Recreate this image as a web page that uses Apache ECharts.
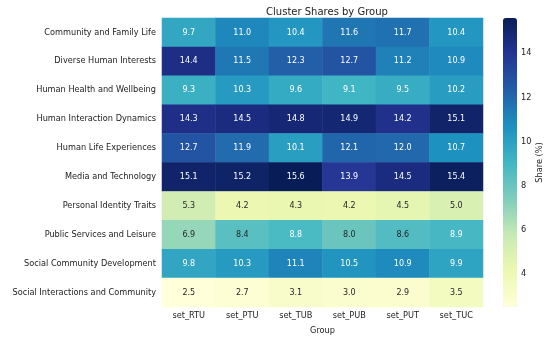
<!DOCTYPE html>
<html><head><meta charset="utf-8">
<script src="https://cdn.jsdelivr.net/npm/echarts@6/dist/echarts.min.js"></script>
<style>html,body{margin:0;padding:0;background:#fff}#c{width:550px;height:337px}</style>
</head><body><div id="c"></div>
<script>
const groups = ['set_RTU','set_PTU','set_TUB','set_PUB','set_PUT','set_TUC'];
const clusters = ['Community and Family Life','Diverse Human Interests','Human Health and Wellbeing','Human Interaction Dynamics','Human Life Experiences','Media and Technology','Personal Identity Traits','Public Services and Leisure','Social Community Development','Social Interactions and Community'];
const shares = [
  [9.7,11.0,10.4,11.6,11.7,10.4],
  [14.4,11.5,12.3,12.7,11.2,10.9],
  [9.3,10.3,9.6,9.1,9.5,10.2],
  [14.3,14.5,14.8,14.9,14.2,15.1],
  [12.7,11.9,10.1,12.1,12.0,10.7],
  [15.1,15.2,15.6,13.9,14.5,15.4],
  [5.3,4.2,4.3,4.2,4.5,5.0],
  [6.9,8.4,8.8,8.0,8.6,8.9],
  [9.8,10.3,11.1,10.5,10.9,9.9],
  [2.5,2.7,3.1,3.0,2.9,3.5]
];
const colorbarTicks = [4,6,8,10,12,14];
const vmin = 2.5, vmax = 15.6;
const ylgnbu = ['#ffffd9','#edf8b1','#c7e9b4','#7fcdbb','#41b6c4','#1d91c0','#225ea8','#253494','#081d58'];

const data = [];
clusters.forEach((c, i) => groups.forEach((g, j) => {
  const v = shares[i][j];
  data.push({value: [j, i, v], label: {color: v >= 8.7 ? '#ffffff' : '#262626'}});
}));

const font = 'DejaVu Sans';
const fs = 8.2;
const chart = echarts.init(document.getElementById('c'));
chart.setOption({
  animation: false,
  textStyle: {fontFamily: font},
  title: {text: 'Cluster Shares by Group', left: 322, top: 2, textAlign: 'center',
    textStyle: {fontFamily: font, fontSize: 10, fontWeight: 'normal', color: '#222'}},
  grid: [
    {left: 162, top: 18, width: 321, height: 289, containLabel: false, outerBoundsMode: 'none'},
    {left: 503, top: 18, width: 14, height: 289, containLabel: false, outerBoundsMode: 'none'}
  ],
  xAxis: [
    {type: 'category', data: groups, gridIndex: 0, name: 'Group', nameLocation: 'middle', nameGap: 20,
      nameTextStyle: {fontSize: fs, color: '#222'},
      axisLine: {show: false}, axisTick: {alignWithLabel: true, length: 3, lineStyle: {color: '#333'}},
      axisLabel: {fontSize: fs, color: '#222', margin: 5}, splitLine: {show: false}},
    {type: 'value', gridIndex: 1, show: false, min: 0, max: 1}
  ],
  yAxis: [
    {type: 'category', data: clusters, inverse: true, gridIndex: 0, name: 'Cluster', nameLocation: 'middle',
      nameRotate: 90, nameGap: 152, nameTextStyle: {fontSize: fs, color: '#222'},
      axisLine: {show: false}, axisTick: {alignWithLabel: true, length: 3, lineStyle: {color: '#333'}},
      axisLabel: {fontSize: fs, color: '#222', margin: 6}, splitLine: {show: false}},
    {type: 'value', gridIndex: 1, position: 'right', min: vmin, max: vmax,
      name: 'Share (%)', nameLocation: 'middle', nameRotate: 90, nameGap: 19,
      nameTextStyle: {fontSize: fs, color: '#222'},
      axisLine: {show: false}, splitLine: {show: false},
      axisTick: {show: true, length: 3, customValues: colorbarTicks, lineStyle: {color: '#333'}},
      axisLabel: {fontSize: fs, color: '#222', margin: 4, customValues: colorbarTicks}}
  ],
  visualMap: {
    type: 'continuous', min: vmin, max: vmax, seriesIndex: 0, calculable: false,
    orient: 'vertical', left: 503, top: 18, itemWidth: 14, itemHeight: 289, padding: 0,
    text: null, showLabel: false, inRange: {color: ylgnbu}
  },
  series: [{
    type: 'heatmap', xAxisIndex: 0, yAxisIndex: 0, data: data,
    label: {show: true, fontSize: 8, fontFamily: font, formatter: p => p.value[2].toFixed(1)},
    emphasis: {disabled: true}
  }]
});
</script></body></html>
